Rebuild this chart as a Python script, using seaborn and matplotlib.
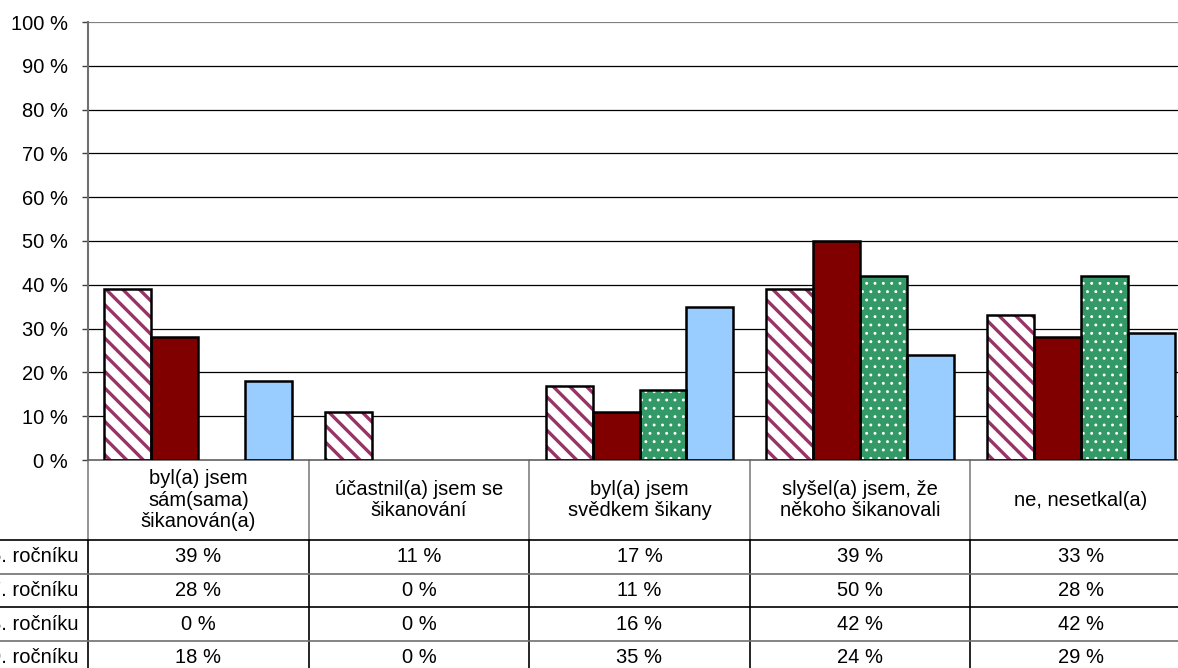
import matplotlib
matplotlib.use("Agg")
import matplotlib.pyplot as plt
from matplotlib.patches import Rectangle
import seaborn as sns
import pandas as pd

categories = [
    "byl(a) jsem\nsám(sama)\nšikanován(a)",
    "účastnil(a) jsem se\nšikanování",
    "byl(a) jsem\nsvědkem šikany",
    "slyšel(a) jsem, že\nněkoho šikanovali",
    "ne, nesetkal(a)",
]
series_names = ["6. ročníku", "7. ročníku", "8. ročníku", "9. ročníku"]
values_s1 = [39, 11, 17, 39, 33]
values_s2 = [28, 0, 11, 50, 28]
values_s3 = [0, 0, 16, 42, 42]
values_s4 = [18, 0, 35, 24, 29]
y_ticks = [0, 10, 20, 30, 40, 50, 60, 70, 80, 90, 100]

all_values = [values_s1, values_s2, values_s3, values_s4]

face_colors = ["#FFFFFF", "#800000", "#339966", "#99CCFF"]
hatch_colors = ["#993366", None, "#FFFFFF", None]
hatches = ["\\\\", None, "..", None]
hatch_widths = [2.4, None, 0.9, None]

sns.set_theme(style="white")
plt.rcParams["font.family"] = ["Liberation Sans", "DejaVu Sans"]
plt.rcParams["hatch.linewidth"] = 2.4
FS = 14.5

rows = []
for s, vals in zip(series_names, all_values):
    for c, v in zip(categories, vals):
        rows.append({"cat": c, "series": s, "val": v})
df = pd.DataFrame(rows)

W, H = 1178, 668
fig = plt.figure(figsize=(W / 100, H / 100), dpi=100)
ax = fig.add_axes([88 / W, (H - 460) / H, (1191 - 88) / W, 438 / H])

sns.barplot(data=df, x="cat", y="val", hue="series", order=categories,
            hue_order=series_names, palette=face_colors, width=0.852,
            ax=ax, legend=False, saturation=1, linewidth=0, edgecolor="none")

for i, cont in enumerate(ax.containers):
    for p in cont.patches:
        if hatches[i]:
            p.set_hatch(hatches[i])
            p.set_edgecolor(hatch_colors[i])
            p.set_linewidth(0)
            if hasattr(p, "set_hatch_linewidth"):
                p.set_hatch_linewidth(hatch_widths[i])
            else:
                p._hatch_linewidth = hatch_widths[i]
        if p.get_height() > 0:
            ax.add_patch(Rectangle((p.get_x(), p.get_y()), p.get_width(), p.get_height(),
                                   fill=False, edgecolor="black", linewidth=1.8, zorder=3))

ax.set_xlim(-0.5, len(categories) - 0.5)
ax.set_ylim(0, 100)
ax.set_yticks(y_ticks)
ax.set_yticklabels([f"{t} %" for t in y_ticks], fontsize=FS, color="black")
ax.tick_params(axis="y", which="major", left=True, length=4.5, width=1, color="#404040", pad=10)
ax.set_xticks([])
ax.set_xlabel("")
ax.set_ylabel("")

for t in y_ticks[1:-1]:
    ax.axhline(t, color="black", linewidth=0.9, zorder=0)
ax.axhline(100, color="#808080", linewidth=1.6, zorder=0)

for side in ["top", "right"]:
    ax.spines[side].set_visible(False)
ax.spines["left"].set_color("#707070")
ax.spines["left"].set_linewidth(1.5)
ax.spines["bottom"].set_color("#606060")
ax.spines["bottom"].set_linewidth(1.2)

# data table under the chart
px = 1.0 / 438.0
header_bottom = -80 * px
row_h = 33.6 * px
n_rows = len(series_names)
table_bottom = header_bottom - (n_rows + 0.3) * row_h
trans_x = ax.get_xaxis_transform()

for k in range(len(categories)):
    xb = k - 0.5
    ax.plot([xb, xb], [0, header_bottom], transform=trans_x, color="#808080",
            linewidth=1.2, clip_on=False)
    ax.plot([xb, xb], [header_bottom, table_bottom], transform=trans_x, color="black",
            linewidth=1.2, clip_on=False)
    ax.text(k, header_bottom / 2, categories[k], transform=trans_x, ha="center",
            va="center", fontsize=FS, linespacing=1.15, color="black")

for r in range(n_rows):
    ytop = header_bottom - r * row_h
    col = "black" if r % 2 == 0 else "#707070"
    ax.plot([-88 / 1103, 1.02], [ytop, ytop], transform=ax.transAxes, color=col,
            linewidth=1.2, clip_on=False)
    yc = ytop - row_h / 2
    ax.text(-0.5 - 0.045, yc, series_names[r], transform=trans_x, ha="right",
            va="center", fontsize=FS, color="black")
    for k, v in enumerate(all_values[r]):
        ax.text(k, yc, f"{v} %", transform=trans_x, ha="center", va="center",
                fontsize=FS, color="black")

fig.savefig("out.png", dpi=100)
